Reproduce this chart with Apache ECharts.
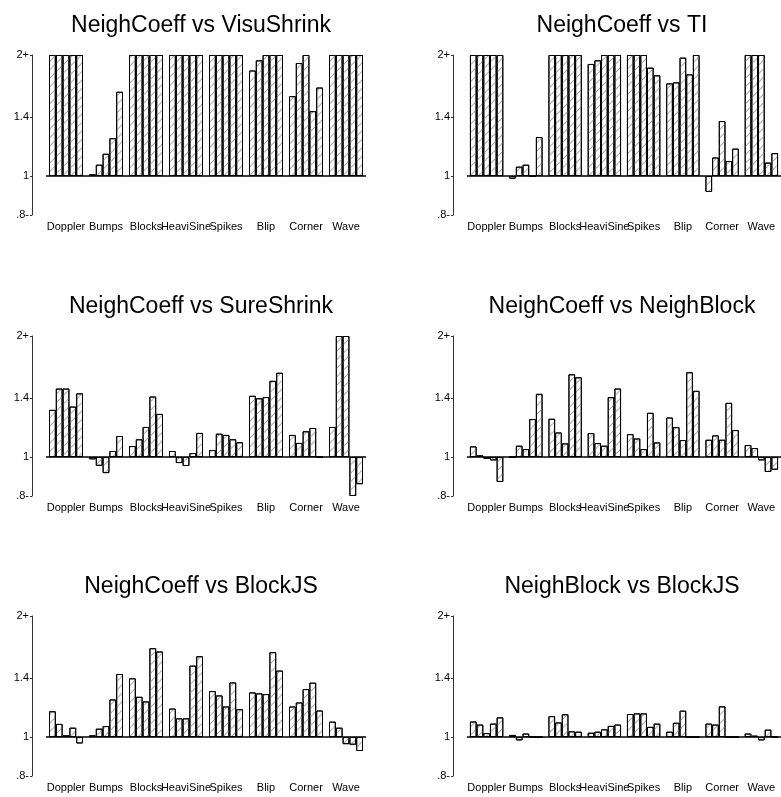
<!DOCTYPE html>
<html><head><meta charset="utf-8">
<script src="https://cdn.jsdelivr.net/npm/echarts@6/dist/echarts.min.js"></script>
<style>html,body{margin:0;padding:0;background:#fff}#c{width:781px;height:797px}</style>
</head><body><div id="c"></div><script>
const categories = ['Doppler','Bumps','Blocks','HeaviSine','Spikes','Blip','Corner','Wave'];
const titles = ['NeighCoeff vs VisuShrink','NeighCoeff vs TI','NeighCoeff vs SureShrink','NeighCoeff vs NeighBlock','NeighCoeff vs BlockJS','NeighBlock vs BlockJS'];
const tickValues = [0.8, 1, 1.4, 2];
const tickLabels = ['.8-', '1', '1.4', '2+'];

// each panel: one row per category, 5 bar values (ratio, clipped to [.8, 2])
const visuShrink = [
  [2,2,2,2,2],[1.01,1.067,1.136,1.242,1.62],[2,2,2,2,2],[2,2,2,2,2],
  [2,2,2,2,2],[1.83,1.94,2,2,2],[1.58,1.91,2,1.45,1.66],[2,2,2,2,2]
];
const ti = [
  [2,2,2,2,2],[0.985,1.055,1.067,1.0,1.25],[2,2,2,2,2],[1.90,1.94,2,2,2],
  [2,2,2,1.86,1.78],[1.70,1.71,1.97,1.79,2],[0.913,1.112,1.37,1.09,1.17],[2,2,2,1.08,1.14]
];
const sureShrink = [
  [1.31,1.48,1.48,1.335,1.44],[0.987,0.951,0.912,1.035,1.128],[1.065,1.107,1.188,1.414,1.28],[1.035,0.966,0.95,1.023,1.148],
  [1.041,1.143,1.135,1.107,1.088],[1.42,1.40,1.41,1.547,1.62],[1.135,1.084,1.159,1.181,1.0],[1.188,2,2,0.8,0.856]
];
const neighBlock = [
  [1.063,1.01,0.99,0.981,0.867],[1.0,1.067,1.047,1.243,1.436],[1.245,1.151,1.081,1.606,1.579],[1.147,1.083,1.067,1.409,1.48],
  [1.14,1.112,1.047,1.288,1.087],[1.254,1.187,1.102,1.625,1.461],[1.104,1.132,1.104,1.364,1.167],[1.071,1.053,0.981,0.918,0.93]
];
const blockJS = [
  [1.159,1.078,1.01,1.055,0.964],[1.01,1.049,1.065,1.24,1.435],[1.40,1.259,1.226,1.663,1.632],[1.177,1.113,1.113,1.505,1.588],
  [1.301,1.269,1.191,1.367,1.173],[1.291,1.284,1.279,1.626,1.463],[1.191,1.219,1.316,1.365,1.164],[1.092,1.055,0.96,0.957,0.923]
];
const nbVsBjs = [
  [1.093,1.074,1.023,1.08,1.119],[1.012,0.981,1.02,1.0,1.0],[1.127,1.087,1.139,1.033,1.031],[1.025,1.031,1.045,1.066,1.074],
  [1.141,1.145,1.145,1.06,1.08],[1.031,1.085,1.163,1.0,1.0],[1.08,1.074,1.192,1.0,1.0],[1.02,1.008,0.981,1.043,1.0]
];
const panels = [visuShrink, ti, sureShrink, neighBlock, blockJS, nbVsBjs];

const FONT = "'Liberation Sans', Arial, sans-serif";
const logTicks = tickValues.map(v => Math.log(v));
const chart = echarts.init(document.getElementById('c'), null, {renderer: 'canvas'});
const grids = [], xAxes = [], yAxes = [], series = [], titleArr = [];
const colOff = [0, 421], rowOff = [0, 281, 561];
panels.forEach((panel, p) => {
  const col = p % 2, row = Math.floor(p / 2);
  const gl = 46 + colOff[col], gt = 55 + rowOff[row];
  grids.push({left: gl, top: gt, width: 320, height: 160, containLabel: false});
  titleArr.push({
    text: titles[p], left: 196 + colOff[col], top: 9 + rowOff[row], textAlign: 'center',
    textStyle: {fontFamily: FONT, fontSize: 23, fontWeight: 'normal', color: '#000'}
  });
  xAxes.push({
    type: 'category', gridIndex: p, data: categories,
    axisLine: {show: false}, axisTick: {show: false},
    axisLabel: {interval: 0, margin: 6, fontFamily: FONT, fontSize: 11, color: '#000'},
    splitLine: {show: false}
  });
  yAxes.push({
    type: 'value', gridIndex: p, min: Math.log(0.8), max: Math.log(2), offset: 14,
    axisLine: {show: true, lineStyle: {color: '#333', width: 1}},
    axisTick: {show: true, length: 2, customValues: logTicks, lineStyle: {color: '#333'}},
    axisLabel: {
      customValues: logTicks, margin: 3, fontFamily: FONT, fontSize: 11, color: '#000',
      formatter: (v) => {
        let best = 0;
        logTicks.forEach((t, i) => { if (Math.abs(t - v) < Math.abs(logTicks[best] - v)) best = i; });
        return tickLabels[best];
      }
    },
    splitLine: {show: false}
  });
  for (let s = 0; s < 5; s++) {
    const ser = {
      type: 'bar', xAxisIndex: p, yAxisIndex: p,
      data: panel.map(g => Math.log(g[s])),
      barGap: '0%', barCategoryGap: '15%',
      itemStyle: {
        color: '#fff', borderColor: '#000', borderWidth: 1,
        decal: {symbol: 'rect', symbolSize: 1, dashArrayX: [1, 0], dashArrayY: [1, 5], rotation: -Math.PI / 4, color: '#aaa'}
      },
      emphasis: {disabled: true}
    };
    if (s === 4) {
      ser.markLine = {
        silent: true, symbol: ['none', 'none'], label: {show: false},
        lineStyle: {color: '#000', width: 1.5, type: 'solid'},
        data: [{yAxis: 0}]
      };
    }
    series.push(ser);
  }
});
chart.setOption({
  animation: false,
  backgroundColor: '#fff',
  title: titleArr, grid: grids, xAxis: xAxes, yAxis: yAxes, series: series
});
</script></body></html>
